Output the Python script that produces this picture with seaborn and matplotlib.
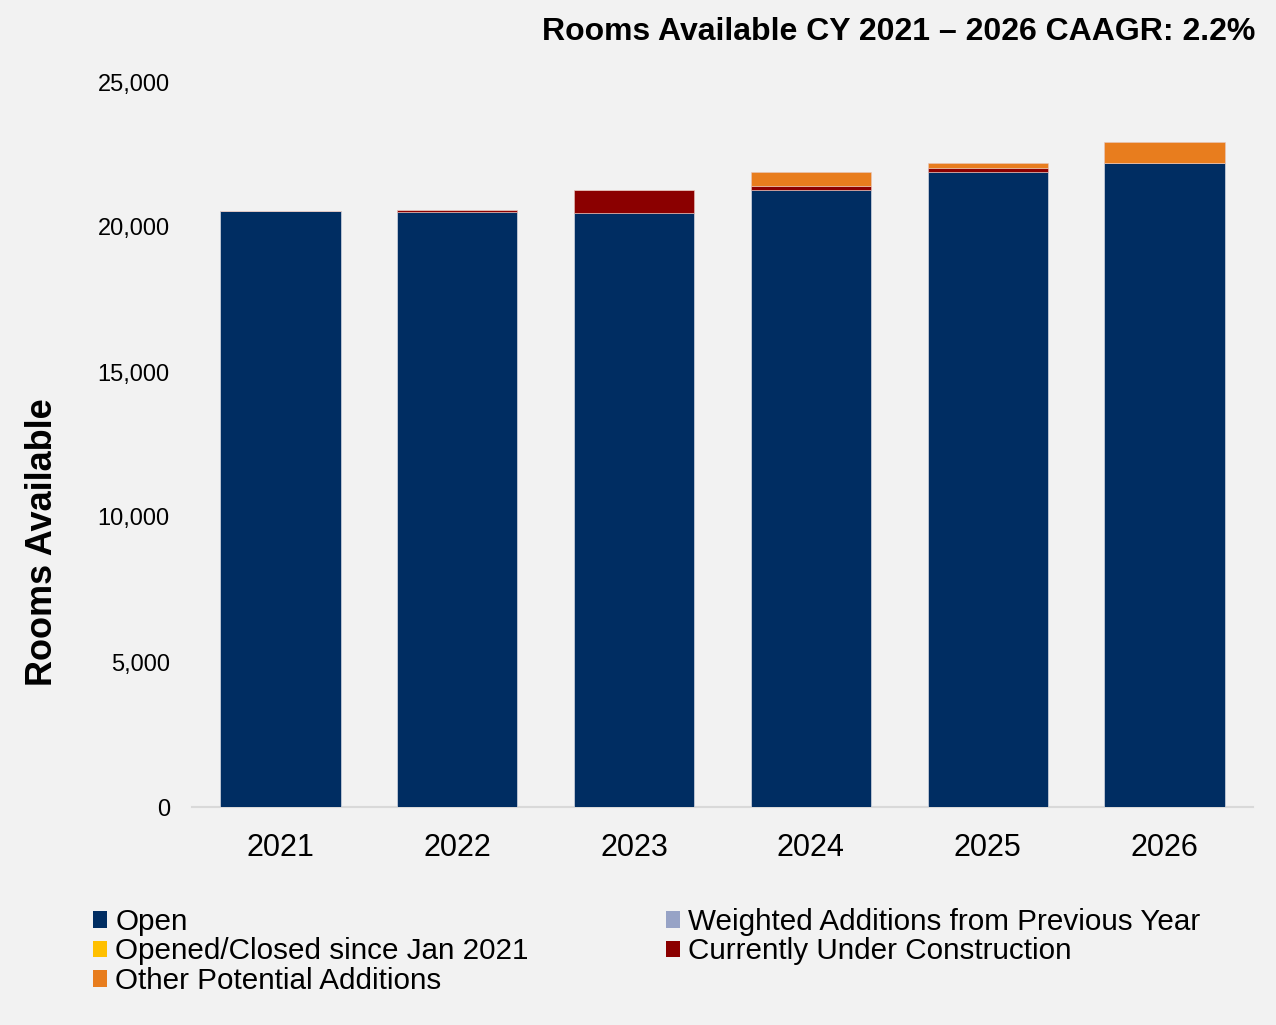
import matplotlib
matplotlib.use("Agg")
import matplotlib.pyplot as plt
import seaborn as sns
import numpy as np
import pandas as pd
from matplotlib.patches import Patch
from matplotlib.ticker import FuncFormatter

years = ["2021", "2022", "2023", "2024", "2025", "2026"]
open_rooms = [20550, 20530, 20470, 21290, 21885, 22220]
weighted_additions = [0, -40, 0, 0, 0, 0]
opened_closed = [0, 0, 0, 0, 0, 0]
under_construction = [0, 70, 815, 140, 160, 0]
other_potential = [0, 0, 0, 460, 170, 715]

colors = {"Open": "#002d62",
          "Weighted Additions from Previous Year": "#97a3c6",
          "Opened/Closed since Jan 2021": "#ffc000",
          "Currently Under Construction": "#8b0000",
          "Other Potential Additions": "#e87d1e"}

title = "Rooms Available CY 2021 \u2013 2026 CAAGR: 2.2%"
ylabel = "Rooms Available"

sns.set_theme(style="white")
plt.rcParams['font.family'] = ['Liberation Sans', 'DejaVu Sans']
plt.rcParams['text.color'] = 'black'
plt.rcParams['axes.labelcolor'] = 'black'
plt.rcParams['xtick.color'] = 'black'
plt.rcParams['ytick.color'] = 'black'

bg = "#f2f2f2"
fig = plt.figure(figsize=(12.76, 10.25), dpi=100, facecolor=bg)
ax = fig.add_axes([192/1276, 1-807/1025, (1253-192)/1276, (807-82)/1025])
ax.set_facecolor(bg)

df = pd.DataFrame({"year": years, "open": open_rooms, "weighted": weighted_additions,
                   "oc": opened_closed, "uc": under_construction, "other": other_potential})

bw = 0.68
sns.barplot(data=df, x="year", y="open", color=colors["Open"], width=bw,
            saturation=1, ax=ax, edgecolor="#c5cbd8", linewidth=0.6)
sns.barplot(data=df, x="year", y="weighted", color=colors["Weighted Additions from Previous Year"],
            width=bw, saturation=1, ax=ax, linewidth=0)
base = np.array(open_rooms, dtype=float)
for col, name in [("oc", "Opened/Closed since Jan 2021"),
                  ("uc", "Currently Under Construction"),
                  ("other", "Other Potential Additions")]:
    vals = df[col].to_numpy(dtype=float)
    sns.barplot(x=years, y=vals, color=colors[name], width=bw, saturation=1,
                ax=ax, bottom=base, edgecolor="#e8c8c0", linewidth=0.4 if vals.any() else 0)
    base = base + vals

ax.set_xlim(-0.5, 5.5)
ax.set_ylim(0, 25000)
ax.set_yticks([0, 5000, 10000, 15000, 20000, 25000])
ax.yaxis.set_major_formatter(FuncFormatter(lambda v, p: f"{int(v):,}"))
ax.tick_params(axis="y", labelsize=17, pad=16, length=0, colors="#000000")
ax.tick_params(axis="x", labelsize=22, pad=19, length=0, colors="#000000")
ax.set_xlabel("")
ax.set_ylabel("")
for s in ["top", "right", "left"]:
    ax.spines[s].set_visible(False)
ax.spines["bottom"].set_color("#d9d9d9")
ax.spines["bottom"].set_linewidth(1.5)
ax.spines["bottom"].set_zorder(0)

fig.text(43/1276, 1-542/1025, ylabel, rotation=90, fontsize=26, fontweight="bold",
         ha="center", va="center", color="black")
fig.text(1255/1276, 1-40/1025, title, fontsize=23, fontweight="bold",
         ha="right", va="baseline", color="black")

def handles(names):
    return [Patch(facecolor=colors[n], edgecolor="none", label=n) for n in names]

leg_kw = dict(frameon=False, fontsize=21.3, handlelength=0.48, handleheight=0.48,
              handletextpad=0.28, labelspacing=0.05, borderpad=0, borderaxespad=0,
              loc="upper left", labelcolor="black")
fig.legend(handles=handles(["Open", "Opened/Closed since Jan 2021", "Other Potential Additions"]),
           bbox_to_anchor=(93/1276, 1-908/1025), **leg_kw)
fig.legend(handles=handles(["Weighted Additions from Previous Year", "Currently Under Construction"]),
           bbox_to_anchor=(666/1276, 1-908/1025), **leg_kw)

fig.savefig("out.png", dpi=100, facecolor=bg)
